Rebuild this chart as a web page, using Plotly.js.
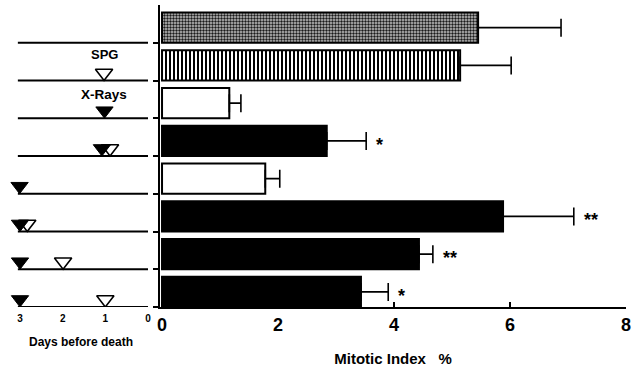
<!DOCTYPE html>
<html><head><meta charset="utf-8">
<script src="https://cdn.plot.ly/plotly-3.0.1.min.js"></script>
<style>html,body{margin:0;padding:0;background:#fff}#chart{width:632px;height:373px}</style>
</head><body><div id="chart"></div>
<script>
// rows listed top to bottom
const groups = ['Control', 'SPG d1', 'X-Rays d1', 'X-Rays d1 + SPG d1', 'X-Rays d3', 'X-Rays d3 + SPG d3', 'X-Rays d3 + SPG d2', 'X-Rays d3 + SPG d1'];
const mitoticIndex = [5.45, 5.14, 1.16, 2.84, 1.78, 5.88, 4.43, 3.43];
const sem = [1.43, 0.88, 0.20, 0.68, 0.25, 1.22, 0.24, 0.47];
const significance = ['', '', '', '*', '', '**', '**', '*'];
const xrayDay = [null, null, 1.02, 1.08, 3.01, 3.0, 3.0, 3.0];
const spgDay = [null, 1.03, null, 0.89, null, 2.83, 1.99, 1.0];
const fillKind = ['stipple', 'stripes', 'white', 'black', 'white', 'black', 'black', 'black'];
const daysTicks = [3, 2, 1, 0];
const miTicks = [0, 2, 4, 6, 8];
const spgLabel = 'SPG';
const xrayLabel = 'X-Rays';

const FONT = 'Liberation Sans, Arial, Helvetica, sans-serif';
const n = groups.length;
const rowY = groups.map((g, k) => n - 1 - k);
const lineY = rowY.map(v => v - 0.4);

const colorOf = {stipple: '#b4b4b4', stripes: '#ffffff', white: '#ffffff', black: '#000000'};
const patternOf = {
  stipple: {shape: '.', fgcolor: '#1a1a1a', bgcolor: '#c4c4c4', size: 3, solidity: 0.5},
  stripes: {shape: '|', fgcolor: '#000000', bgcolor: '#ffffff', size: 4, solidity: 0.5}
};

// one bar trace per fill style, all drawn from the same arrays
const kinds = ['stipple', 'stripes', 'white', 'black'];
const barTraces = kinds.map(kind => {
  const idx = fillKind.map((f, k) => f === kind ? k : -1).filter(k => k >= 0);
  const marker = {color: colorOf[kind], line: {color: '#000', width: 2}};
  if (patternOf[kind]) marker.pattern = patternOf[kind];
  return {
    type: 'bar', orientation: 'h',
    x: idx.map(k => mitoticIndex[k]), y: idx.map(k => rowY[k]), width: 0.8,
    xaxis: 'x', yaxis: 'y', marker: marker,
    error_x: {type: 'data', symmetric: false, array: idx.map(k => sem[k]), arrayminus: idx.map(() => 0),
              color: '#000', thickness: 1.6, width: 9},
    hoverinfo: 'x+y'
  };
});

const spgTrace = {
  type: 'scatter', mode: 'markers', xaxis: 'x2', yaxis: 'y',
  x: spgDay, y: rowY.map(v => v - 0.2),
  marker: {symbol: 'triangle-down', size: 15, color: '#fff', line: {color: '#000', width: 1.6}}
};
const xrayTrace = {
  type: 'scatter', mode: 'markers', xaxis: 'x2', yaxis: 'y',
  x: xrayDay, y: rowY.map(v => v - 0.2),
  marker: {symbol: 'triangle-down', size: 15, color: '#000', line: {color: '#000', width: 1}}
};

const shapes = lineY.map(y => ({
  type: 'line', xref: 'x2', yref: 'y', x0: 3.05, x1: 0, y0: y, y1: y,
  line: {color: '#000', width: 2}
}));

const annotations = [];
significance.forEach((s, k) => {
  if (!s) return;
  annotations.push({
    xref: 'x', yref: 'y', x: mitoticIndex[k] + sem[k], y: rowY[k],
    text: s, showarrow: false, xanchor: 'left', yanchor: 'middle', xshift: 8, yshift: -4,
    font: {family: FONT, size: 18, weight: 'bold', color: '#000'}
  });
});
const spgRow = spgDay.findIndex((d, k) => d !== null && xrayDay[k] === null);
const xrayRow = xrayDay.findIndex((d, k) => d !== null && spgDay[k] === null);
annotations.push({
  xref: 'x2', yref: 'y', x: spgDay[spgRow], y: lineY[spgRow], yshift: 26,
  text: spgLabel, showarrow: false, xanchor: 'center', yanchor: 'middle',
  font: {family: FONT, size: 13, weight: 'bold', color: '#000'}
});
annotations.push({
  xref: 'x2', yref: 'y', x: xrayDay[xrayRow], y: lineY[xrayRow], yshift: 24,
  text: xrayLabel, showarrow: false, xanchor: 'center', yanchor: 'middle',
  font: {family: FONT, size: 13.5, weight: 'bold', color: '#000'}
});

const layout = {
  width: 632, height: 373,
  margin: {l: 0, r: 6, t: 5, b: 66, pad: 0},
  paper_bgcolor: '#fff', plot_bgcolor: '#fff',
  showlegend: false,
  font: {family: FONT, color: '#000'},
  xaxis: {
    domain: [160 / 626, 1], range: [-0.035, 8], anchor: 'y',
    tickvals: miTicks, ticktext: miTicks.map(String),
    ticks: 'inside', ticklen: 5, tickwidth: 2, tickcolor: '#000',
    showline: true, linewidth: 2, linecolor: '#000',
    showgrid: false, zeroline: false,
    tickfont: {family: FONT, size: 18, weight: 'bold'},
    title: {text: 'Mitotic Index   %', font: {family: FONT, size: 15, weight: 'bold'}, standoff: 20}
  },
  xaxis2: {
    domain: [6 / 626, 156 / 626], range: [3.328, -0.1875], anchor: 'y',
    tickvals: daysTicks, ticktext: daysTicks.map(String),
    ticks: '', showline: false, showgrid: false, zeroline: false,
    ticklabelstandoff: 4,
    tickfont: {family: FONT, size: 10, weight: 'bold'},
    title: {text: 'Days before death', font: {family: FONT, size: 12, weight: 'bold'}, standoff: 14}
  },
  yaxis: {
    range: [-0.4, 7.6], anchor: 'x',
    tickvals: lineY, showticklabels: false,
    ticks: 'outside', ticklen: 5, tickwidth: 2, tickcolor: '#000',
    showline: true, linewidth: 2, linecolor: '#000',
    showgrid: false, zeroline: false
  },
  shapes: shapes,
  annotations: annotations,
  barmode: 'overlay'
};

Plotly.newPlot('chart', barTraces.concat([spgTrace, xrayTrace]), layout, {displayModeBar: false, staticPlot: true});
</script></body></html>
